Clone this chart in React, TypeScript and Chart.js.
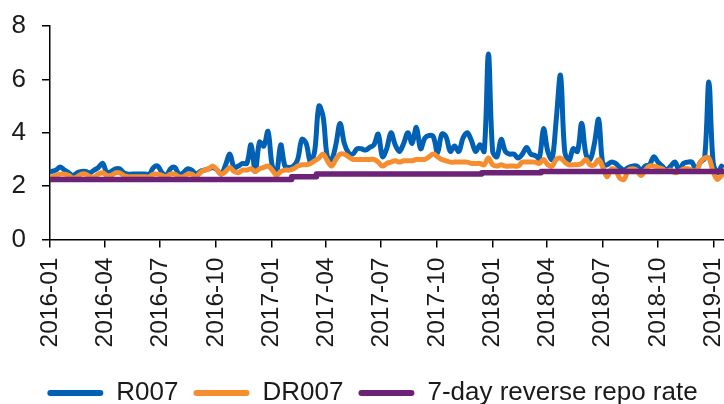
import React, { useEffect, useRef } from 'react';
import { Chart, registerables } from 'chart.js';
Chart.register(...registerables);

// Weekly observations starting from this date (one value per week)
const firstWeek = '2016-01-04';

const r007 = [
  2.55, 2.6, 2.72, 2.6, 2.5, 2.4, 2.5, 2.55, 2.55, 2.5,
  2.6, 2.7, 2.85, 2.5, 2.55, 2.65, 2.65, 2.5, 2.45, 2.45,
  2.45, 2.45, 2.45, 2.45, 2.7, 2.75, 2.5, 2.4, 2.65, 2.7,
  2.45, 2.5, 2.65, 2.6, 2.45, 2.55, 2.6, 2.65, 2.7, 2.6,
  2.45, 2.8, 3.2, 2.7, 2.75, 2.85, 2.85, 3.55, 2.55, 3.65,
  3.5, 4.05, 2.75, 2.5, 3.55, 2.75, 2.7, 2.75, 3.0, 3.75,
  3.6, 2.9, 3.3, 5.0, 4.6, 3.1, 3.0, 3.55, 4.35, 3.6,
  3.25, 3.2, 3.4, 3.4, 3.35, 3.45, 3.55, 3.95, 3.1, 3.4,
  4.0, 3.55, 3.3, 3.6, 4.0, 3.6, 4.2, 3.4, 3.8, 3.9,
  3.85, 3.25, 3.95, 3.85, 3.3, 3.5, 3.3, 3.8, 4.0, 3.7,
  3.3, 3.55, 3.3, 6.95, 3.3, 3.1, 3.75, 3.3, 3.2, 3.2,
  3.05, 3.2, 3.45, 3.2, 3.15, 3.05, 4.15, 3.3, 3.0, 4.5,
  6.15, 3.3, 2.95, 3.4, 3.3, 4.35, 3.2, 3.0, 3.6, 4.5,
  2.8, 2.8, 2.9, 2.85, 2.7, 2.6, 2.7, 2.75, 2.75, 2.6,
  2.75, 2.8, 3.1, 2.9, 2.75, 2.6, 2.75, 2.9, 2.6, 2.85,
  2.9, 2.9, 2.6, 2.9, 3.05, 5.9, 2.9, 2.5, 2.75,
];

const dr007 = [
  2.35, 2.4, 2.45, 2.45, 2.4, 2.3, 2.35, 2.45, 2.45, 2.35,
  2.35, 2.45, 2.5, 2.4, 2.4, 2.5, 2.5, 2.4, 2.35, 2.35,
  2.35, 2.35, 2.35, 2.35, 2.45, 2.45, 2.4, 2.35, 2.45, 2.45,
  2.35, 2.35, 2.45, 2.45, 2.35, 2.5, 2.6, 2.65, 2.75, 2.6,
  2.45, 2.55, 2.7, 2.55, 2.5, 2.6, 2.6, 2.65, 2.55, 2.65,
  2.7, 2.75, 2.6, 2.4, 2.55, 2.6, 2.6, 2.65, 2.75, 2.8,
  2.8, 2.85, 2.95, 3.05, 3.2, 2.95, 2.75, 3.0, 3.2, 3.2,
  3.1, 3.0, 3.0, 3.0, 3.0, 3.0, 3.0, 2.9, 2.75, 2.85,
  2.9, 2.95, 2.9, 2.95, 2.95, 2.95, 3.0, 3.0, 3.0, 3.1,
  3.2, 3.1, 3.0, 2.95, 2.9, 2.9, 2.9, 2.9, 2.9, 2.85,
  2.85, 2.85, 2.8, 3.05, 2.8, 2.75, 2.8, 2.75, 2.75, 2.75,
  2.75, 2.9, 2.9, 2.9, 2.9, 2.85, 3.0, 2.8, 2.75, 3.0,
  3.05, 2.9, 2.8, 2.8, 2.8, 2.85, 3.0, 2.8, 2.8, 3.0,
  2.7, 2.35, 2.65, 2.6, 2.3, 2.25, 2.6, 2.65, 2.6, 2.4,
  2.6, 2.75, 2.75, 2.7, 2.65, 2.55, 2.6, 2.5, 2.55, 2.65,
  2.65, 2.6, 2.55, 2.9, 3.05, 3.05, 2.55, 2.25, 2.4,
];

// 7-day reverse repo rate: value holds from each date until the next
const repoDates = ['2016-01-01', '2017-02-03', '2017-03-16', '2017-12-14', '2018-03-22', '2019-01-18'];
const repoRates = [2.25, 2.35, 2.45, 2.5, 2.55, 2.55];

const xTickLabels = [
  '2016-01', '2016-04', '2016-07', '2016-10',
  '2017-01', '2017-04', '2017-07', '2017-10',
  '2018-01', '2018-04', '2018-07', '2018-10', '2019-01',
];
const yTickValues = [0, 2, 4, 6, 8];
const xEndDate = '2019-01-18';

const seriesNames = ['R007', 'DR007', '7-day reverse repo rate'];
const seriesColors = ['#0061B4', '#F68E2F', '#6C2277'];

const DAY = 86400000;
const ORIGIN = Date.UTC(2016, 0, 1);
const dayOf = (s: string) => {
  const [y, m, d] = s.split('-').map(Number);
  return (Date.UTC(y, m - 1, d || 1) - ORIGIN) / DAY;
};

const FONT = "'Liberation Sans', Arial, Helvetica, sans-serif";
const TEXT = '#1a1a1a';
const PAD_LEFT = 11;
const PLOT_LEFT = 50;
const PLOT_TOP = 26;
const LEGEND_SHIFT = 5;

// nudges the legend row sideways so that it sits where the reference has it
const legendShift = {
  id: 'legendShift',
  beforeDraw(chart: any) {
    const lg = chart.legend;
    if (lg) {
      lg.left = PAD_LEFT + LEGEND_SHIFT;
      lg.right = chart.width + LEGEND_SHIFT;
    }
  },
};

export default function App() {
  const ref = useRef<HTMLCanvasElement>(null);

  useEffect(() => {
    document.body.style.margin = '0';
    document.body.style.overflow = 'hidden';
    const canvas = ref.current;
    if (!canvas) return;

    const start = dayOf(firstWeek);
    const weekly = (vals: number[]) => vals.map((v, i) => ({ x: start + 7 * i, y: v }));

    const chart = new Chart(canvas, {
      type: 'line',
      data: {
        datasets: [
          {
            label: seriesNames[0],
            data: weekly(r007),
            borderColor: seriesColors[0],
            backgroundColor: seriesColors[0],
            borderWidth: 5,
            tension: 0.35,
            order: 3,
          },
          {
            label: seriesNames[1],
            data: weekly(dr007),
            borderColor: seriesColors[1],
            backgroundColor: seriesColors[1],
            borderWidth: 5,
            tension: 0.35,
            order: 2,
          },
          {
            label: seriesNames[2],
            data: repoDates.map((d, i) => ({ x: dayOf(d), y: repoRates[i] })),
            borderColor: seriesColors[2],
            backgroundColor: seriesColors[2],
            borderWidth: 5.5,
            stepped: true,
            order: 1,
          },
        ],
      },
      plugins: [legendShift],
      options: {
        animation: false,
        responsive: false,
        devicePixelRatio: 1,
        layout: { padding: { left: PAD_LEFT, top: PLOT_TOP, right: 0, bottom: 0 } },
        elements: {
          point: { radius: 0, hoverRadius: 0 },
          line: { borderCapStyle: 'round', borderJoinStyle: 'round' },
        },
        plugins: {
          tooltip: { enabled: false },
          legend: {
            position: 'bottom',
            labels: {
              boxWidth: 56,
              boxHeight: 6,
              padding: 15,
              color: TEXT,
              font: { family: FONT, size: 26 },
              generateLabels: (c: any) =>
                c.data.datasets.map((ds: any, i: number) => ({
                  text: ds.label,
                  fillStyle: ds.borderColor,
                  strokeStyle: ds.borderColor,
                  lineWidth: 0,
                  hidden: false,
                  datasetIndex: i,
                  borderRadius: 3,
                  fontColor: TEXT,
                })),
            },
          },
        },
        scales: {
          x: {
            type: 'linear',
            min: 0,
            max: dayOf(xEndDate),
            afterBuildTicks: (s: any) => {
              s.ticks = xTickLabels.map((l) => ({ value: dayOf(l) }));
            },
            afterFit: (s: any) => {
              s.height = 125.5;
              s.paddingLeft = 0;
              s.paddingRight = 0;
            },
            ticks: {
              autoSkip: false,
              minRotation: 90,
              maxRotation: 90,
              padding: 10,
              color: TEXT,
              font: { family: FONT, size: 24.5 },
              callback: (v: any) => {
                const l = xTickLabels.find((t) => dayOf(t) === v);
                return l ?? '';
              },
            },
            grid: { drawOnChartArea: false, drawTicks: true, tickLength: 8, color: '#000', lineWidth: 1.5 },
            border: { display: true, color: '#000', width: 1.5 },
          },
          y: {
            min: 0,
            max: 8,
            afterBuildTicks: (s: any) => {
              s.ticks = yTickValues.map((v) => ({ value: v }));
            },
            afterFit: (s: any) => {
              s.width = PLOT_LEFT - PAD_LEFT;
              s.paddingTop = 0;
              s.paddingBottom = 0;
            },
            ticks: {
              padding: 16,
              color: TEXT,
              font: { family: FONT, size: 26 },
            },
            grid: { drawOnChartArea: false, drawTicks: true, tickLength: 8, color: '#000', lineWidth: 1.5 },
            border: { display: true, color: '#000', width: 1.5 },
          },
        },
      } as any,
    });
    return () => chart.destroy();
  }, []);

  return (
    <div style={{ width: 724, height: 404, overflow: 'hidden', position: 'relative' }}>
      <canvas ref={ref} width={724} height={416} style={{ display: 'block' }} />
    </div>
  );
}
